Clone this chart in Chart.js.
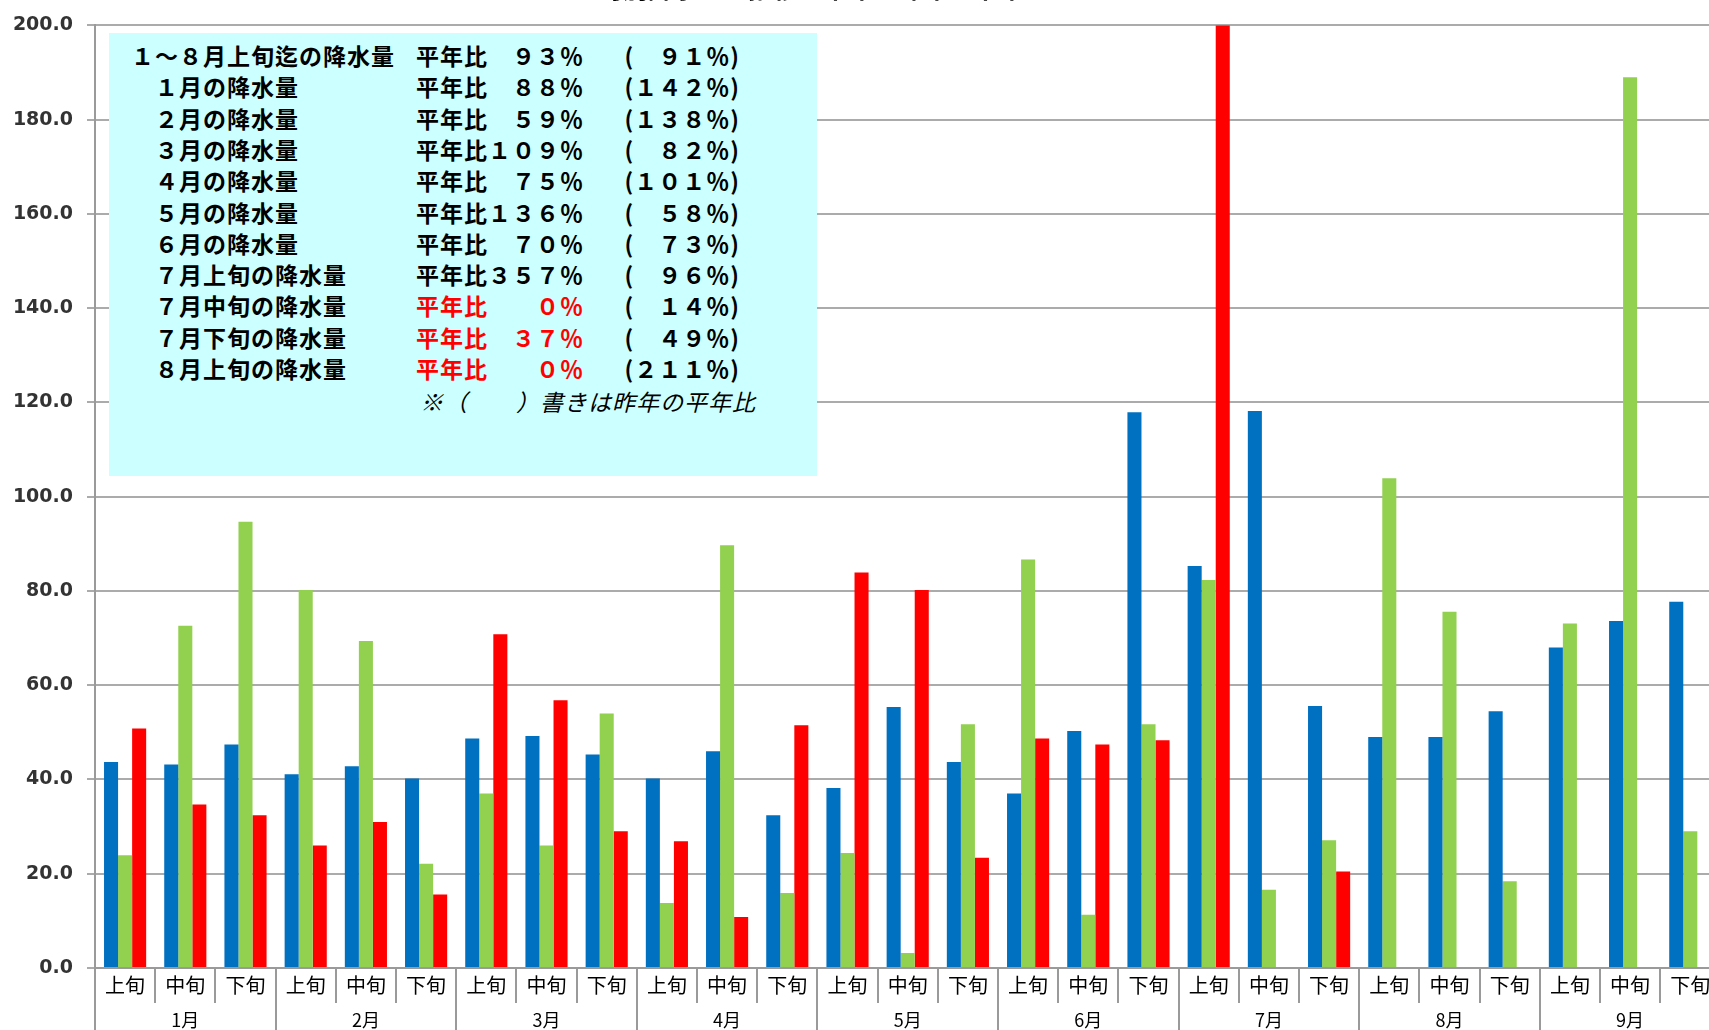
<!DOCTYPE html>
<html lang="ja">
<head>
<meta charset="utf-8">
<title>旬別降水量</title>
<script src="https://cdn.jsdelivr.net/npm/chart.js@4.4.1/dist/chart.umd.min.js"></script>
<style>
    html, body { margin: 0; padding: 0; background: #fff; overflow: hidden; }
    #wrap { position: relative; width: 1709px; height: 1030px; overflow: hidden; }
    #rainChart { position: absolute; left: 0; top: 0; }
    #chart-title {
        position: absolute; left: 598px; top: -27px;
        font: bold 25px "Noto Sans CJK JP"; line-height: 28px; white-space: nowrap; color: #000;
    }
    #summary {
        position: absolute; left: 109px; top: 33px; width: 708px; height: 443px;
        background: #ccffff;
        font-family: "Noto Sans CJK JP"; font-size: 23px; font-weight: bold;
        letter-spacing: 1px; color: #000;
    }
    #summary .row { position: absolute; left: 0; width: 100%; height: 30px; line-height: 30px; white-space: nowrap; }
    #summary .lbl { position: absolute; left: 46px; }
    #summary .lbl.first { left: 22px; }
    #summary .ratio { position: absolute; left: 307px; }
    #summary .prev { position: absolute; right: 77px; }
    #summary .red { color: #ff0000; }
    #summary .note { position: absolute; left: 311px; font-weight: normal; font-style: italic; }
</style>
</head>
<body>
<div id="wrap">
    <canvas id="rainChart" width="1740" height="1030"></canvas>
    <div id="chart-title">旬別降水量の推移（平年・昨年・本年）</div>
    <div id="summary"></div>
</div>
<script>
// 月・旬のラベル
const months = ['1月', '2月', '3月', '4月', '5月', '6月', '7月', '8月', '9月'];
const periods = ['上旬', '中旬', '下旬'];

// 旬別降水量 (mm) - 平年 / 昨年 / 本年
const normalRain = [43.7, 43.2, 47.4, 41.1, 42.8, 40.2, 48.7, 49.2, 45.3, 40.2, 46.0, 32.4, 38.2, 55.4,
    43.7, 37.0, 50.3, 117.9, 85.3, 118.2, 55.6, 49.0, 49.0, 54.5, 68.0, 73.6, 77.7];
const lastYearRain = [23.9, 72.6, 94.7, 80.2, 69.4, 22.1, 37.0, 26.0, 54.0, 13.8, 89.7, 15.9, 24.4, 3.2,
    51.7, 86.7, 11.3, 51.7, 82.3, 16.6, 27.1, 103.9, 75.6, 18.4, 73.1, 189.0, 29.0];
const thisYearRain = [50.8, 34.7, 32.4, 26.0, 31.0, 15.6, 70.8, 56.8, 29.0, 26.9, 10.8, 51.5, 83.9, 80.2,
    23.4, 48.7, 47.4, 48.3, 304.5, 0, 20.5, 0, null, null, null, null, null];

// y軸目盛
const yMin = 0;
const yMax = 200;
const yStep = 20;

// 平年比の表
const summaryLabels = ['１～８月上旬迄の降水量', '１月の降水量', '２月の降水量', '３月の降水量', '４月の降水量',
    '５月の降水量', '６月の降水量', '７月上旬の降水量', '７月中旬の降水量', '７月下旬の降水量', '８月上旬の降水量'];
const summaryRatios = ['９３％', '８８％', '５９％', '１０９％', '７５％', '１３６％', '７０％', '３５７％', '０％', '３７％', '０％'];
const summaryPrev = ['９１％', '１４２％', '１３８％', '８２％', '１０１％', '５８％', '７３％', '９６％', '１４％', '４９％', '２１１％'];
const summaryRed = [false, false, false, false, false, false, false, false, true, true, true];
const summaryNote = '※（　　）書きは昨年の平年比';

// 旬ラベルを月×旬から作る
const periodLabels = [];
months.forEach(m => periods.forEach(p => periodLabels.push(p)));

// 全角で右寄せ
function padFull(text, len) {
    let s = text;
    while (s.length < len) s = '　' + s;
    return s;
}

function buildSummary() {
    const box = document.getElementById('summary');
    summaryLabels.forEach((label, i) => {
        const row = document.createElement('div');
        row.className = 'row';
        row.style.top = (7 + i * 31.3) + 'px';

        const lbl = document.createElement('span');
        lbl.className = 'lbl' + (i === 0 ? ' first' : '');
        lbl.textContent = label;

        const ratio = document.createElement('span');
        ratio.className = 'ratio' + (summaryRed[i] ? ' red' : '');
        ratio.textContent = '平年比' + padFull(summaryRatios[i], 4);

        const prev = document.createElement('span');
        prev.className = 'prev';
        prev.textContent = '(' + padFull(summaryPrev[i], 4) + ')';

        row.appendChild(lbl);
        row.appendChild(ratio);
        row.appendChild(prev);
        box.appendChild(row);
    });

    const noteRow = document.createElement('div');
    noteRow.className = 'row';
    noteRow.style.top = (9 + summaryLabels.length * 31.3) + 'px';
    const note = document.createElement('span');
    note.className = 'note';
    note.textContent = summaryNote;
    noteRow.appendChild(note);
    box.appendChild(noteRow);
}

function initializeChart() {
    const ctx = document.getElementById('rainChart').getContext('2d');
    const axisGray = '#9a9a9a';

    new Chart(ctx, {
        type: 'bar',
        data: {
            labels: periodLabels,
            datasets: [{
                label: '平年',
                data: normalRain,
                backgroundColor: '#0070c0'
            }, {
                label: '昨年',
                data: lastYearRain,
                backgroundColor: '#92d050'
            }, {
                label: '本年',
                data: thisYearRain,
                backgroundColor: '#ff0000'
            }]
        },
        options: {
            responsive: false,
            devicePixelRatio: 1,
            animation: false,
            layout: { padding: { left: 0, top: 20, right: 19.6, bottom: 0 } },
            datasets: {
                bar: { categoryPercentage: 0.7, barPercentage: 1.0, borderWidth: 0 }
            },
            plugins: {
                legend: { display: false },
                tooltip: { enabled: false }
            },
            scales: {
                x: {
                    type: 'category',
                    position: 'bottom',
                    offset: true,
                    grid: { offset: true, drawOnChartArea: false, tickLength: 35, color: axisGray, lineWidth: 2 },
                    border: { color: axisGray, width: 2 },
                    ticks: {
                        autoSkip: false, maxRotation: 0, padding: -30, color: '#000',
                        font: { family: 'Noto Sans CJK JP', size: 20 }
                    },
                    afterFit: (scale) => { scale.height = 35; }
                },
                month: {
                    type: 'category',
                    position: 'bottom',
                    labels: months,
                    offset: true,
                    grid: { offset: true, drawOnChartArea: false, tickLength: 30, color: axisGray, lineWidth: 2 },
                    border: { display: false },
                    ticks: {
                        autoSkip: false, maxRotation: 0, padding: -24, color: '#000',
                        font: { family: 'Noto Sans CJK JP', size: 18 }
                    },
                    afterFit: (scale) => { scale.height = 27; }
                },
                y: {
                    min: yMin,
                    max: yMax,
                    ticks: {
                        stepSize: yStep, padding: 14, color: '#333',
                        font: { family: 'DejaVu Sans', size: 19, weight: 'bold' },
                        callback: (v) => v.toFixed(1)
                    },
                    grid: { color: '#ababab', lineWidth: 2, tickLength: 8 },
                    border: { color: axisGray, width: 2 },
                    afterFit: (scale) => { scale.width = 95; }
                }
            }
        }
    });
}

document.addEventListener('DOMContentLoaded', () => {
    buildSummary();
    initializeChart();
});
</script>
</body>
</html>
